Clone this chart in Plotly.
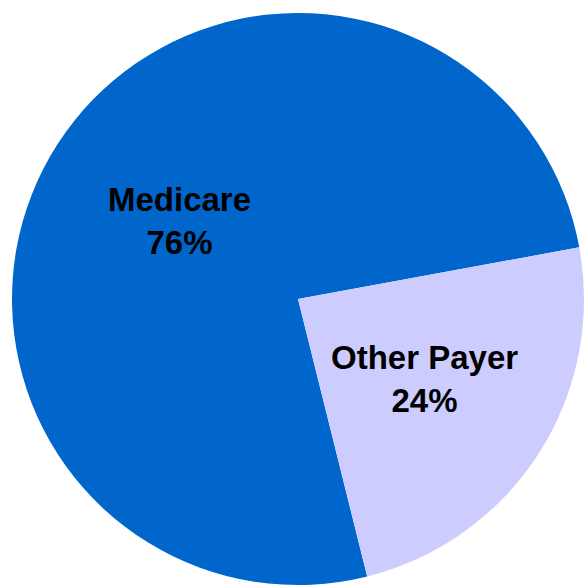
import math
import plotly.graph_objects as go

categories = ["Medicare", "Other Payer"]
values = [76, 24]
colors = ["#0066CC", "#CCCCFF"]

W, H = 584, 587
# pie placement (pixels)
left_px, top_px = 12, 11
dom_w = W - left_px
dom_h = H - top_px - 0
R = min(dom_w, dom_h) / 2
cx_px = left_px + dom_w / 2
cy_px = top_px + dom_h / 2
rotation = 166  # degrees clockwise from 12 o'clock where first slice starts
label_dx = 4    # small horizontal nudge for the labels (pixels)

fig = go.Figure(go.Pie(
    labels=categories,
    values=values,
    marker=dict(colors=colors, line=dict(width=0)),
    sort=False,
    direction="clockwise",
    rotation=rotation,
    textinfo="none",
    hoverinfo="label+percent",
    showlegend=False,
    domain=dict(x=[left_px / W, 1], y=[1 - (top_px + dom_h) / H, 1 - top_px / H]),
))

# labels at the mid-angle of each slice, about half a radius out
total = sum(values)
start = rotation
annotations = []
for cat, v in zip(categories, values):
    span = v / total * 360
    mid = start + span / 2  # clockwise from 12 o'clock
    start += span
    ang = math.radians(mid)
    x_px = cx_px + label_dx + 0.51 * R * math.sin(ang)
    y_px = cy_px + 1 - 0.51 * R * math.cos(ang)
    annotations.append(dict(
        x=x_px / W, y=1 - y_px / H, xref="paper", yref="paper",
        text=f"<b>{cat}<br>{round(v / total * 100)}%</b>",
        showarrow=False, xanchor="center", yanchor="middle", align="center",
        font=dict(family="Liberation Sans, Arial, sans-serif", size=33, color="black"),
    ))

fig.update_layout(
    width=W, height=H, autosize=False,
    margin=dict(l=0, r=0, t=0, b=0),
    paper_bgcolor="white", plot_bgcolor="white",
    annotations=annotations,
)

fig.write_html("out.html")
